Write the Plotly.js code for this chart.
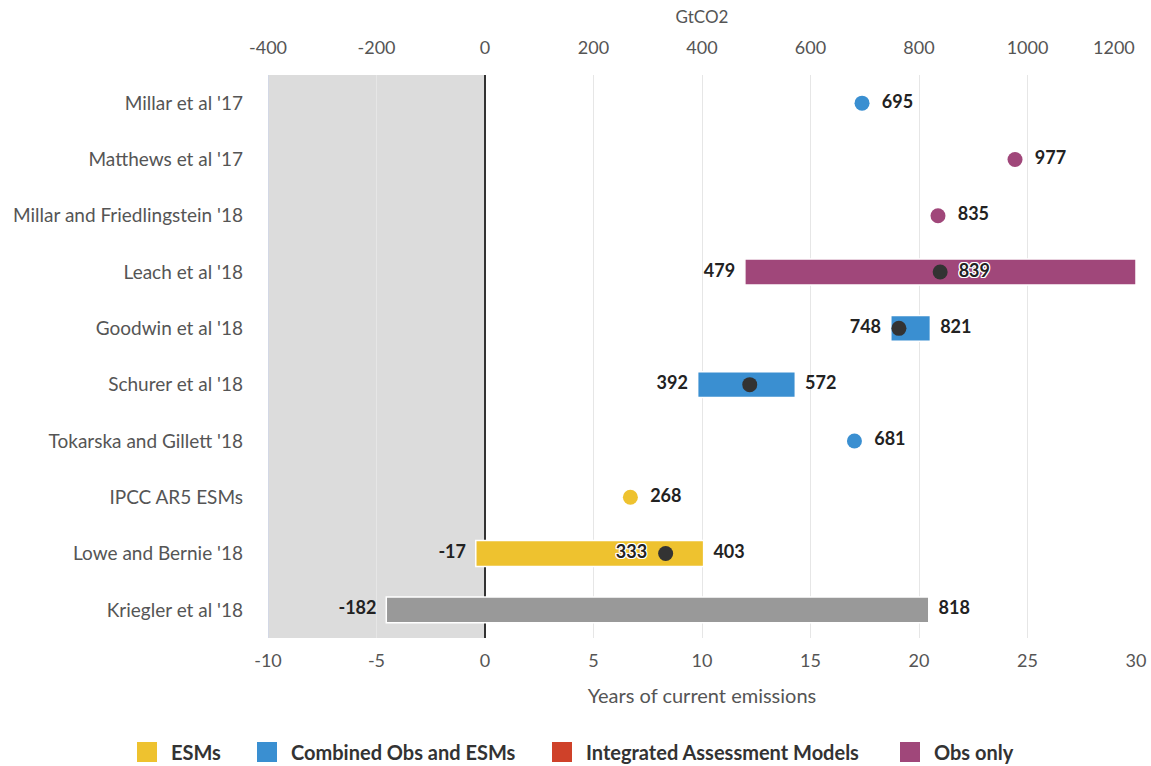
<!DOCTYPE html>
<html>
<head>
<meta charset="utf-8">
<script src="https://cdn.plot.ly/plotly-3.0.1.min.js"></script>
<style>html,body{margin:0;padding:0;background:#fff;}#chart{width:1151px;height:766px;}</style>
</head>
<body>
<div id="chart"></div>
<script>
// ---- data ----
var categories = ["Millar et al '17", "Matthews et al '17", "Millar and Friedlingstein '18", "Leach et al '18",
  "Goodwin et al '18", "Schurer et al '18", "Tokarska and Gillett '18", "IPCC AR5 ESMs",
  "Lowe and Bernie '18", "Kriegler et al '18"];

// range bars (GtCO2)
var rangeCats = ["Leach et al '18", "Goodwin et al '18", "Schurer et al '18", "Lowe and Bernie '18", "Kriegler et al '18"];
var rangeLow = [479, 748, 392, -17, -182];
var rangeHigh = [1200, 821, 572, 403, 818];
var rangeLowLabels = ["479", "748", "392", "-17", "-182"];
var rangeHighLabels = ["", "821", "572", "403", "818"];
var rangeGroup = ["Obs only", "Combined Obs and ESMs", "Combined Obs and ESMs", "ESMs", "Other"];

// central estimates on bars
var centralCats = ["Leach et al '18", "Goodwin et al '18", "Schurer et al '18", "Lowe and Bernie '18"];
var centralVals = [839, 763, 488, 333];
var centralLabels = ["839", "", "", "333"];
var centralLabelSide = ["middle right", "middle right", "middle right", "middle left"];

// single point estimates
var pointCats = ["Millar et al '17", "Matthews et al '17", "Millar and Friedlingstein '18", "Tokarska and Gillett '18", "IPCC AR5 ESMs"];
var pointVals = [695, 977, 835, 681, 268];
var pointGroup = ["Combined Obs and ESMs", "Obs only", "Obs only", "Combined Obs and ESMs", "ESMs"];

var legendGroups = ["ESMs", "Combined Obs and ESMs", "Integrated Assessment Models", "Obs only"];

// axis ticks
var yearTicks = [-10, -5, 0, 5, 10, 15, 20, 25, 30];
var yearTickText = ["-10", "-5", "0", "5", "10", "15", "20", "25", "30"];
var gtTicks = [-400, -200, 0, 200, 400, 600, 800, 1000, 1200];
var gtTickText = ["-400", "-200", "0", "200", "400", "600", "800", "1000", "1200"];

// ---- styles / layout geometry ----
var groupColors = {
  "ESMs": "#EEC22F",
  "Combined Obs and ESMs": "#3A8FD1",
  "Integrated Assessment Models": "#CF4129",
  "Obs only": "#A0477A",
  "Other": "#999999"
};
var FONT = "Lato, 'Open Sans', sans-serif";
var labelFont = {family: FONT, size: 18, color: "#222", weight: 700};
var halo = "1px 1px 0 #fff, -1px -1px 0 #fff, 1px -1px 0 #fff, -1px 1px 0 #fff, 0 1px 0 #fff, 0 -1px 0 #fff, 1px 0 0 #fff, -1px 0 0 #fff";

var W = 1151, H = 766, ML = 268, MR = 15, MT = 75, MB = 128;
var plotW = W - ML - MR, plotH = H - MT - MB;
function pxX(px) { return (px - ML) / plotW; }
function pxY(py) { return (H - MB - py) / plotH; }
var legendSquareLeft = [137, 257, 552, 900];
var legendSquareSize = 20, legendTextGap = 13, legendCenterY = 752;

var traces = [];

// bars
traces.push({
  type: "bar", orientation: "h", xaxis: "x2", yaxis: "y",
  y: rangeCats,
  base: rangeLow,
  x: rangeHigh.map(function (h, i) { return h - rangeLow[i]; }),
  width: 0.46,
  marker: {color: rangeGroup.map(function (g) { return groupColors[g]; }), line: {color: "#fff", width: 1.5}},
  showlegend: false, hoverinfo: "skip"
});

// low / high labels
traces.push({
  type: "scatter", mode: "markers+text", xaxis: "x2", yaxis: "y",
  y: rangeCats, x: rangeLow, text: rangeLowLabels, textposition: "middle left",
  marker: {size: 14, color: "rgba(0,0,0,0)"}, textfont: labelFont,
  showlegend: false, hoverinfo: "skip", cliponaxis: false
});
traces.push({
  type: "scatter", mode: "markers+text", xaxis: "x2", yaxis: "y",
  y: rangeCats, x: rangeHigh, text: rangeHighLabels, textposition: "middle right",
  marker: {size: 14, color: "rgba(0,0,0,0)"}, textfont: labelFont,
  showlegend: false, hoverinfo: "skip", cliponaxis: false
});

// central dots
traces.push({
  type: "scatter", mode: "markers", xaxis: "x2", yaxis: "y",
  y: centralCats, x: centralVals,
  marker: {size: 15, color: "#333"},
  showlegend: false, hoverinfo: "skip", cliponaxis: false
});
traces.push({
  type: "scatter", mode: "markers+text", xaxis: "x2", yaxis: "y",
  y: centralCats, x: centralVals, text: centralLabels, textposition: centralLabelSide,
  marker: {size: 28, color: "rgba(0,0,0,0)"},
  textfont: Object.assign({}, labelFont, {shadow: halo}),
  showlegend: false, hoverinfo: "skip", cliponaxis: false
});

// point estimates
traces.push({
  type: "scatter", mode: "markers", xaxis: "x2", yaxis: "y",
  y: pointCats, x: pointVals,
  marker: {size: 15, color: pointGroup.map(function (g) { return groupColors[g]; })},
  showlegend: false, hoverinfo: "skip", cliponaxis: false
});
traces.push({
  type: "scatter", mode: "markers+text", xaxis: "x2", yaxis: "y",
  y: pointCats, x: pointVals, text: pointVals.map(String), textposition: "middle right",
  marker: {size: 30, color: "rgba(0,0,0,0)"},
  textfont: labelFont,
  showlegend: false, hoverinfo: "skip", cliponaxis: false
});

var tickFont = {family: FONT, size: 18, color: "#555"};

var shapes = [
  {type: "rect", xref: "x", yref: "paper", x0: yearTicks[0], x1: 0, y0: 0, y1: 1,
   fillcolor: "#dcdcdc", line: {width: 0}, layer: "below"},
  {type: "line", xref: "x", yref: "paper", x0: yearTicks[0], x1: yearTicks[0], y0: 0, y1: 1,
   line: {color: "#c9d3ee", width: 1}, layer: "below"}
];
var annotations = [];

// last top tick label placed inside the chart edge
annotations.push({
  xref: "x2", yref: "paper", x: gtTicks[gtTicks.length - 1], y: pxY(47),
  xanchor: "right", yanchor: "middle", showarrow: false, borderpad: 0,
  text: gtTickText[gtTickText.length - 1], font: tickFont
});

// legend (squares + labels)
legendGroups.forEach(function (g, i) {
  var left = legendSquareLeft[i];
  shapes.push({
    type: "rect", xref: "paper", yref: "paper",
    x0: pxX(left), x1: pxX(left + legendSquareSize),
    y0: pxY(legendCenterY + legendSquareSize / 2), y1: pxY(legendCenterY - legendSquareSize / 2),
    fillcolor: groupColors[g], line: {width: 0}
  });
  annotations.push({
    xref: "paper", yref: "paper",
    x: pxX(left + legendSquareSize + legendTextGap), y: pxY(legendCenterY),
    xanchor: "left", yanchor: "middle", showarrow: false, borderpad: 0,
    text: g, font: {family: FONT, size: 20, color: "#333", weight: 700}
  });
});

var layout = {
  width: W, height: H,
  margin: {l: ML, r: MR, t: MT, b: MB},
  paper_bgcolor: "#fff", plot_bgcolor: "#fff",
  font: {family: FONT, color: "#555", size: 18},
  showlegend: false,
  xaxis: {
    range: [yearTicks[0], yearTicks[yearTicks.length - 1]],
    tickmode: "array", tickvals: yearTicks, ticktext: yearTickText, side: "bottom",
    showgrid: true, gridcolor: "#e6e6e6", gridwidth: 1,
    zeroline: true, zerolinecolor: "#333", zerolinewidth: 1.5,
    showline: false, ticks: "", ticklabelstandoff: 10,
    tickfont: tickFont,
    title: {text: "Years of current emissions", font: {family: FONT, size: 20, color: "#555"}, standoff: 18}
  },
  xaxis2: {
    range: [gtTicks[0], gtTicks[gtTicks.length - 1]],
    tickmode: "array", tickvals: gtTicks,
    ticktext: gtTickText.map(function (t, i) { return i === gtTickText.length - 1 ? "" : t; }),
    side: "top", overlaying: "x",
    showgrid: false, zeroline: false, showline: false, ticks: "", ticklabelstandoff: 16,
    tickfont: tickFont,
    title: {text: "GtCO2", font: {family: FONT, size: 17, color: "#555"}, standoff: 8}
  },
  yaxis: {
    type: "category", categoryorder: "array", categoryarray: categories,
    range: [categories.length - 0.5, -0.5],
    showgrid: false, zeroline: false, showline: false,
    ticks: "", ticklabelstandoff: 24,
    tickfont: {family: FONT, size: 19, color: "#555"}
  },
  shapes: shapes,
  annotations: annotations
};

Plotly.newPlot("chart", traces, layout, {displayModeBar: false, staticPlot: true});
</script>
</body>
</html>
